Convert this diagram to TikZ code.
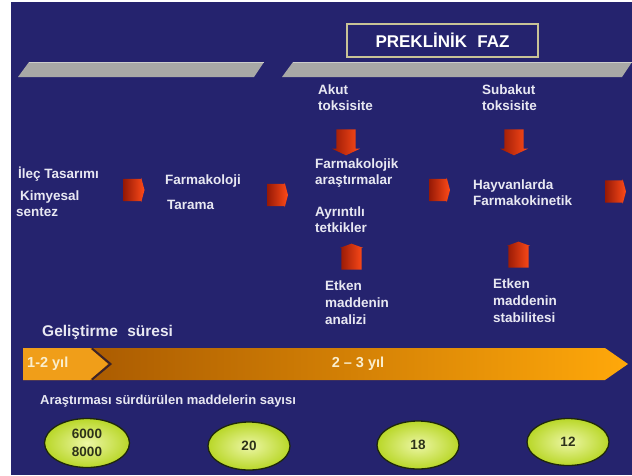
\documentclass[tikz,border=0pt]{standalone}
\usepackage{fontspec}
\setmainfont{Liberation Sans}
\usetikzlibrary{shapes.geometric,shapes.arrows}
\definecolor{navy}{RGB}{37,35,110}
\definecolor{lbltxt}{RGB}{232,232,242}
\definecolor{barmid}{RGB}{168,168,166}
\definecolor{barhi}{RGB}{205,205,203}
\definecolor{framecol}{RGB}{200,195,150}
\definecolor{arrdark}{RGB}{150,25,5}
\definecolor{arrbright}{RGB}{255,75,25}
\definecolor{ordark}{RGB}{160,82,0}
\definecolor{orbright}{RGB}{255,168,10}
\definecolor{oramber}{RGB}{240,158,25}
\definecolor{chevdark}{RGB}{60,35,40}
\definecolor{limein}{RGB}{236,246,165}
\definecolor{limeout}{RGB}{185,215,40}
\definecolor{ellborder}{RGB}{30,40,10}
\definecolor{elltxt}{RGB}{45,50,25}
\definecolor{bartxt}{RGB}{250,238,205}
\begin{document}
\begin{tikzpicture}[x={(1pt,0)},y={(0,-1pt)},
  lbl/.style={font=\bfseries\fontsize{13.5}{16.5}\selectfont,text=lbltxt,align=left,
    anchor=north west,inner sep=0pt,execute at begin node={\rule{0pt}{12.5pt}}},
  lblthree/.style={lbl,font=\bfseries\fontsize{13.5}{17}\selectfont},
  blockarr/.style={single arrow,draw=none,inner sep=0pt,outer sep=0pt,left color=arrdark,right color=arrbright},
  rarrow/.style={blockarr,minimum height=21pt,single arrow head extend=1pt,single arrow tip angle=150},
  darrow/.style={blockarr,rotate=-90,minimum height=26pt,single arrow head extend=4.5pt,single arrow tip angle=130},
  uarrow/.style={blockarr,rotate=90,minimum height=26pt,single arrow head extend=1.5pt,single arrow tip angle=140},
  countell/.style={ellipse,draw=ellborder,line width=1.3pt,inner color=limein,outer color=limeout,
    minimum width=82pt,minimum height=48pt,inner sep=0pt,text=elltxt,align=center,
    font=\bfseries\fontsize{13.5}{18}\selectfont},
  bartext/.style={text=bartxt,font=\bfseries\fontsize{14.5}{16}\selectfont,inner sep=0pt},
  graybar/.style={fill=barmid,draw=none}
]
\useasboundingbox (0,0) rectangle (632,475);
\fill[white] (0,0) rectangle (632,475);
\fill[navy] (11,2) rectangle (632,475);

% title box
\node[draw=framecol,line width=2pt,fill=navy,minimum width=191pt,minimum height=33pt,inner sep=0pt,
  text=white,font=\bfseries\fontsize{17}{20}\selectfont] (title) at (442.5,40.5) {PREKLİNİK\hspace{0.6em}FAZ};

% gray bars
\fill[graybar] (18,77) -- (254,77) -- (264,62) -- (29,62) -- cycle;
\draw[barhi,line width=1.2pt] (29,62.8) -- (263.5,62.8);
\fill[graybar] (282,77) -- (622,77) -- (632,62) -- (293,62) -- cycle;
\draw[barhi,line width=1.2pt] (293,62.8) -- (632,62.8);

% labels
\node[lbl] (ilac) at (18,165.3) {İleç Tasarımı};
\node[lbl] (kimya) at (16,190.3) {\hspace{4pt}Kimyesal\\sentez};
\node[lbl] (farma) at (165,171.3) {Farmakoloji};
\node[lbl] (tarama) at (167,196.3) {Tarama};
\node[lbl] (akut) at (318,84.3) {Akut\\toksisite};
\node[lbl] (subakut) at (482,84.3) {Subakut\\toksisite};
\node[lbl] (farmarast) at (315,158.3) {Farmakolojik\\araştırmalar};
\node[lbl] (hayvan) at (473,179.3) {Hayvanlarda\\Farmakokinetik};
\node[lbl] (ayrinti) at (315,206.3) {Ayrıntılı\\tetkikler};
\node[lblthree] (analiz) at (325,280.3) {Etken\\maddenin\\analizi};
\node[lblthree] (stabil) at (493,278.3) {Etken\\maddenin\\stabilitesi};

% block arrows
\node[rarrow] (a1) at (132.5,190) {\rule{0pt}{22pt}};
\node[rarrow] (a2) at (276,195) {\rule{0pt}{22pt}};
\node[rarrow] (a3) at (438,190) {\rule{0pt}{22pt}};
\node[rarrow] (a4) at (614,191.5) {\rule{0pt}{22pt}};
\node[darrow] (d1) at (346,140) {\rule{0pt}{19pt}};
\node[darrow] (d2) at (514,140) {\rule{0pt}{19pt}};
\node[uarrow] (u1) at (351.5,258.5) {\rule{0pt}{20pt}};
\node[uarrow] (u2) at (518.5,256.5) {\rule{0pt}{20pt}};

% development time
\node[lbl,font=\bfseries\fontsize{15.5}{18}\selectfont] (gelis) at (42,323.5) {Geliştirme\hspace{0.6em}süresi};

% orange bar
\shade[left color=ordark,right color=orbright] (23,348) -- (605,348) -- (628,364) -- (605,380) -- (23,380) -- cycle;
\fill[oramber] (23,348) -- (90,348) -- (108,364) -- (90,380) -- (23,380) -- cycle;
\draw[chevdark,line width=2pt] (92,348.5) -- (110.5,364) -- (92,379.5);
\node[bartext,anchor=west] (y12) at (27,364) {1-2 yıl};
\node[bartext] (y23) at (358,364) {2 – 3 yıl};

\node[lbl,font=\bfseries\fontsize{13}{16}\selectfont] (arast) at (40,391.5) {Araştırması sürdürülen maddelerin sayısı};

% counts
\node[countell,minimum width=85pt,minimum height=49pt] (e1) at (87,443) {6000\\8000};
\node[countell] (e2) at (249,446) {20};
\node[countell] (e3) at (418,445) {18};
\node[countell,minimum height=47pt] (e4) at (568,442) {12};
\end{tikzpicture}
\end{document}
